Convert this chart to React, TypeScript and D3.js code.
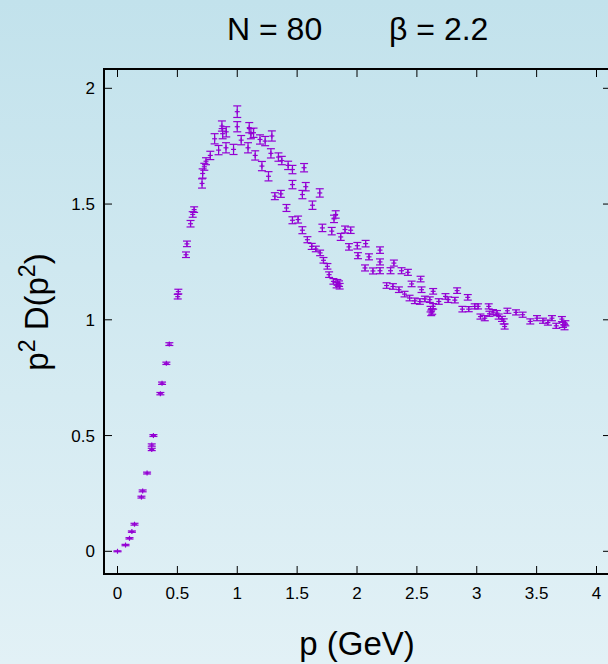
import React from "react";
import * as d3 from "d3";

const pX = [
  0.0, 0.067, 0.1, 0.12, 0.142, 0.2, 0.21, 0.247, 0.286, 0.286, 0.3, 0.358, 0.372, 0.408, 0.433,
  0.503, 0.508, 0.572, 0.58, 0.61, 0.628, 0.64, 0.706, 0.711, 0.725, 0.739, 0.775, 0.811, 0.844,
  0.872, 0.878, 0.906, 0.908, 0.969, 1.0, 1.0, 1.033, 1.09, 1.1, 1.114, 1.136, 1.15, 1.19, 1.206,
  1.233, 1.261, 1.281, 1.289, 1.314, 1.344, 1.364, 1.372, 1.411, 1.425, 1.461, 1.461, 1.461, 1.508,
  1.544, 1.544, 1.558, 1.572, 1.586, 1.622, 1.628, 1.656, 1.689, 1.692, 1.711, 1.72, 1.753, 1.767,
  1.789, 1.803, 1.808, 1.822, 1.836, 1.85, 1.864, 1.855, 1.83, 1.9, 1.947, 1.933, 2.003, 2.008,
  2.072, 2.1, 2.067, 2.133, 2.192, 2.192, 2.192, 2.247, 2.28, 2.308, 2.3, 2.35, 2.372, 2.397, 2.425,
  2.439, 2.456, 2.483, 2.525, 2.531, 2.539, 2.567, 2.608, 2.614, 2.628, 2.636, 2.636, 2.62, 2.683,
  2.739, 2.761, 2.817, 2.836, 2.88, 2.925, 2.933, 2.983, 3.011, 3.031, 3.067, 3.1, 3.106, 3.136,
  3.169, 3.183, 3.211, 3.225, 3.233, 3.256, 3.328, 3.383, 3.447, 3.503, 3.553, 3.594, 3.628, 3.664,
  3.711, 3.719, 3.733, 3.74,
];

const p2D = [
  0.0, 0.027, 0.056, 0.085, 0.117, 0.234, 0.261, 0.338, 0.44, 0.459, 0.5, 0.681, 0.726, 0.812, 0.895,
  1.1, 1.122, 1.281, 1.328, 1.415, 1.455, 1.476, 1.589, 1.632, 1.661, 1.685, 1.71, 1.782, 1.733,
  1.837, 1.804, 1.743, 1.812, 1.736, 1.899, 1.834, 1.776, 1.743, 1.83, 1.804, 1.808, 1.71, 1.779, 1.664,
  1.772, 1.62, 1.719, 1.794, 1.534, 1.703, 1.544, 1.688, 1.483, 1.667, 1.649, 1.584, 1.43, 1.433,
  1.541, 1.387, 1.657, 1.575, 1.346, 1.317, 1.495, 1.306, 1.548, 1.289, 1.397, 1.257, 1.231, 1.195,
  1.383, 1.166, 1.436, 1.455, 1.162, 1.156, 1.358, 1.145, 1.15, 1.39, 1.387, 1.315, 1.32, 1.277,
  1.329, 1.272, 1.224, 1.211, 1.301, 1.25, 1.212, 1.148, 1.212, 1.245, 1.144, 1.13, 1.212, 1.111, 1.205,
  1.094, 1.155, 1.082, 1.079, 1.176, 1.13, 1.09, 1.087, 1.046, 1.036, 1.123, 1.058, 1.03, 1.079,
  1.101, 1.087, 1.085, 1.126, 1.046, 1.097, 1.046, 1.058, 1.058, 1.014, 1.007, 1.058, 1.026, 1.033,
  1.029, 1.014, 1.004, 0.993, 0.971, 1.039, 1.032, 1.022, 0.993, 1.007, 0.996, 0.988, 1.007, 0.974,
  1.003, 0.978, 0.968, 0.985,
];

const errY = [
  0.002, 0.003, 0.003, 0.003, 0.004, 0.004, 0.004, 0.004, 0.005, 0.005, 0.004, 0.005, 0.005, 0.005, 0.006,
  0.01, 0.01, 0.012, 0.012, 0.014, 0.012, 0.012, 0.02, 0.02, 0.015, 0.015, 0.018, 0.022, 0.02,
  0.022, 0.022, 0.022, 0.022, 0.022, 0.025, 0.022, 0.02, 0.022, 0.022, 0.022, 0.02, 0.02, 0.02, 0.02,
  0.02, 0.02, 0.02, 0.022, 0.015, 0.018, 0.015, 0.018, 0.015, 0.018, 0.018, 0.018, 0.015, 0.015,
  0.018, 0.015, 0.018, 0.018, 0.013, 0.013, 0.018, 0.012, 0.018, 0.012, 0.016, 0.012, 0.012, 0.012,
  0.016, 0.012, 0.016, 0.016, 0.012, 0.012, 0.015, 0.012, 0.012, 0.015, 0.014, 0.014, 0.014, 0.013,
  0.014, 0.013, 0.013, 0.013, 0.014, 0.013, 0.013, 0.012, 0.013, 0.013, 0.012, 0.012, 0.013, 0.012, 0.013,
  0.012, 0.012, 0.012, 0.012, 0.012, 0.012, 0.012, 0.012, 0.012, 0.012, 0.012, 0.012, 0.012, 0.012,
  0.012, 0.012, 0.012, 0.012, 0.012, 0.012, 0.011, 0.011, 0.011, 0.011, 0.011, 0.011, 0.011, 0.011,
  0.011, 0.011, 0.011, 0.011, 0.011, 0.011, 0.011, 0.011, 0.011, 0.011, 0.011, 0.011, 0.011, 0.011,
  0.011, 0.011, 0.011, 0.011,
];

const xTicks = [0, 0.5, 1, 1.5, 2, 2.5, 3, 3.5, 4];
const yTicks = [0, 0.5, 1, 1.5, 2];

const W = 608;
const H = 664;
const FONT = "'Liberation Sans', Arial, Helvetica, sans-serif";
const COLOR = "#9400d3";

export default function App() {
  const frameL = 104;
  const frameR = 611;
  const frameT = 69;
  const frameB = 574;
  const x = d3.scaleLinear().domain([0, 4]).range([117.5, 596.5]);
  const y = d3.scaleLinear().domain([0, 2]).range([551.3, 88.3]);
  const tickLen = 8;
  const cap = 4;
  const mark = 2.5;

  return (
    <svg
      width={W}
      height={H}
      style={{ position: "absolute", left: 0, top: 0, display: "block" }}
    >
      <defs>
        <linearGradient id="bg" x1="0" y1="0" x2="0" y2="1">
          <stop offset="0%" stopColor="#c2e2ec" />
          <stop offset="100%" stopColor="#e2f1f6" />
        </linearGradient>
      </defs>
      <rect x={0} y={0} width={W} height={H} fill="url(#bg)" />

      {/* title */}
      <text x={227} y={40} fontFamily={FONT} fontSize={32} fill="#000">
        N = 80
      </text>
      <text x={389} y={40} fontFamily={FONT} fontSize={32} fill="#000">
        β = 2.2
      </text>

      {/* ticks */}
      {xTicks.map((t) => (
        <g key={"xt" + t}>
          <line x1={x(t)} x2={x(t)} y1={frameB} y2={frameB - tickLen} stroke="#000" strokeWidth={1} />
          <line x1={x(t)} x2={x(t)} y1={frameT} y2={frameT + tickLen} stroke="#000" strokeWidth={1} />
          <text
            x={x(t)}
            y={599}
            textAnchor="middle"
            fontFamily={FONT}
            fontSize={17}
            fill="#000"
          >
            {String(t)}
          </text>
        </g>
      ))}
      {yTicks.map((t) => (
        <g key={"yt" + t}>
          <line x1={frameL} x2={frameL + tickLen} y1={y(t)} y2={y(t)} stroke="#000" strokeWidth={1} />
          <line x1={frameR} x2={frameR - tickLen} y1={y(t)} y2={y(t)} stroke="#000" strokeWidth={1} />
          <text
            x={95}
            y={y(t) + 6}
            textAnchor="end"
            fontFamily={FONT}
            fontSize={17}
            fill="#000"
          >
            {String(t)}
          </text>
        </g>
      ))}

      {/* data */}
      <g stroke={COLOR} strokeWidth={1.2} fill="none">
        {pX.map((px, i) => {
          const cx = x(px);
          const cy = y(p2D[i]);
          const y0 = y(p2D[i] - errY[i]);
          const y1 = y(p2D[i] + errY[i]);
          return (
            <g key={i}>
              <line x1={cx} x2={cx} y1={y0} y2={y1} />
              <line x1={cx - cap} x2={cx + cap} y1={y0} y2={y0} />
              <line x1={cx - cap} x2={cx + cap} y1={y1} y2={y1} />
              <line x1={cx - mark} x2={cx + mark} y1={cy} y2={cy} />
              <line x1={cx} x2={cx} y1={cy - mark} y2={cy + mark} />
            </g>
          );
        })}
      </g>

      {/* frame */}
      <rect
        x={frameL}
        y={frameT}
        width={frameR - frameL}
        height={frameB - frameT}
        fill="none"
        stroke="#000"
        strokeWidth={2}
      />

      {/* axis labels */}
      <text x={357} y={655} textAnchor="middle" fontFamily={FONT} fontSize={33} fill="#000">
        p (GeV)
      </text>
      <text
        transform="translate(48,312) rotate(-90)"
        textAnchor="middle"
        fontFamily={FONT}
        fontSize={33}
        fill="#000"
      >
        <tspan>p</tspan>
        <tspan dy={-13} fontSize={23}>2</tspan>
        <tspan dy={13}> D(p</tspan>
        <tspan dy={-13} fontSize={23}>2</tspan>
        <tspan dy={13}>)</tspan>
      </text>
    </svg>
  );
}
